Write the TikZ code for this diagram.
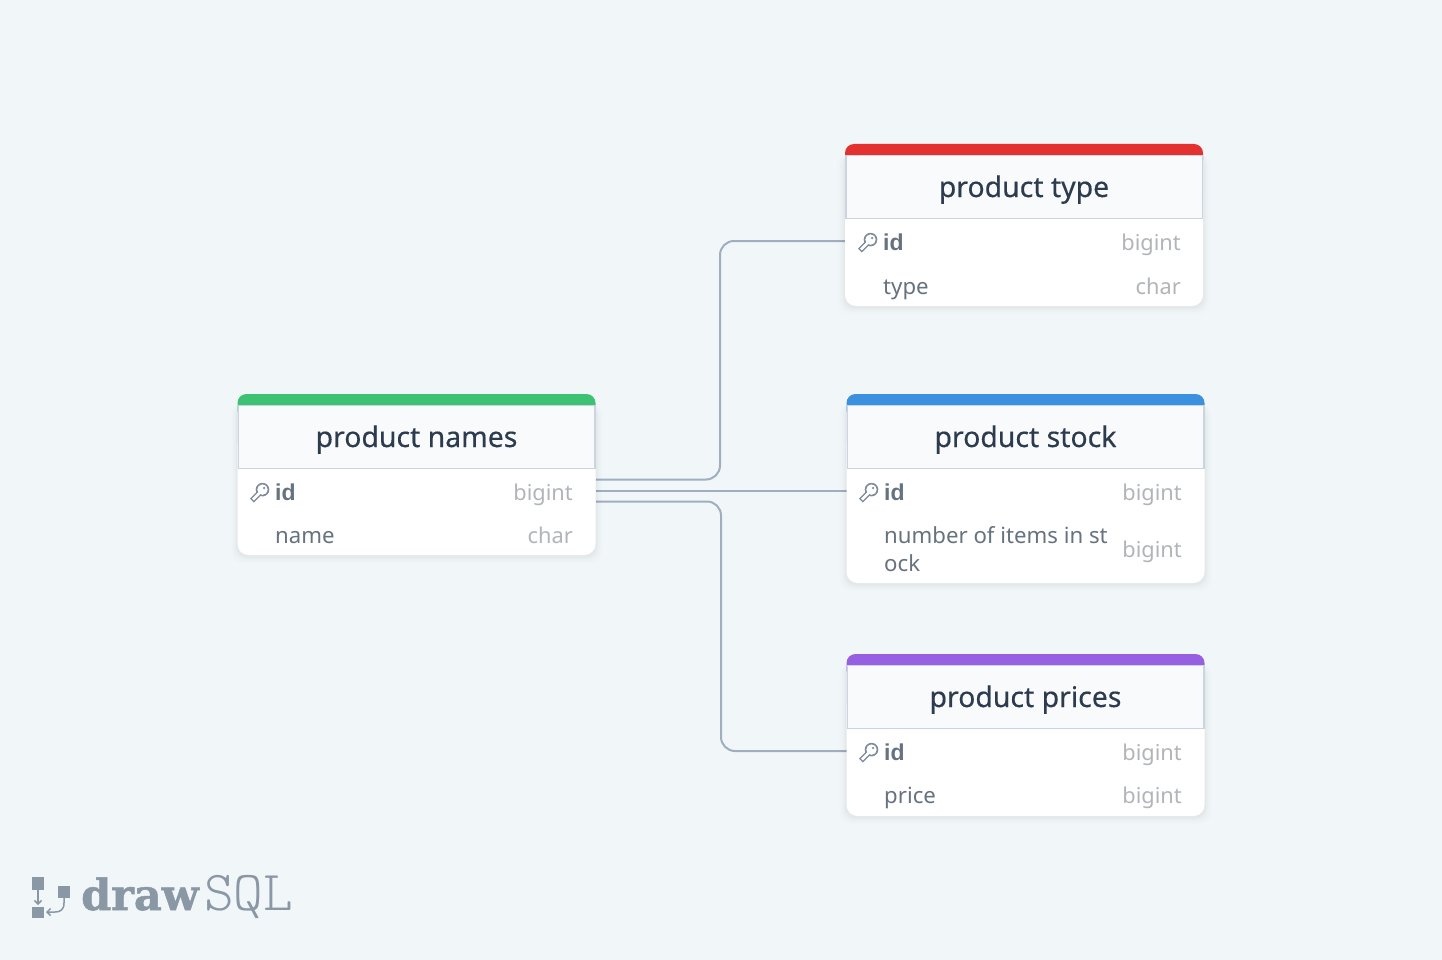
\documentclass[tikz,border=0pt]{standalone}
\usepackage{fontspec}
\setmainfont{Noto Sans}
\newfontfamily\titlefont[FakeBold=0.35]{Noto Sans}
\newfontfamily\boldcol{Liberation Sans Bold}
\newfontfamily\logobold[BoldFeatures={FakeBold=1.2}]{DejaVu Serif}
\newfontfamily\logolight{Latin Modern Mono Light}
\usetikzlibrary{arrows.meta}
\definecolor{bgc}{HTML}{F1F6F9}
\definecolor{headc}{HTML}{F8FAFC}
\definecolor{linec}{HTML}{CBD5E0}
\definecolor{linkc}{HTML}{A0AEC0}
\definecolor{titlec}{HTML}{2D3B4F}
\definecolor{colc}{HTML}{66727F}
\definecolor{typec}{HTML}{B2B5B8}
\definecolor{logoc}{HTML}{8A98A5}
\definecolor{keyc}{HTML}{7E8B98}
\definecolor{greenc}{HTML}{3CC272}
\definecolor{redc}{HTML}{E53030}
\definecolor{bluec}{HTML}{3B90E0}
\definecolor{purplec}{HTML}{9760E2}
\tikzset{
  x=1pt,y=-1pt,
  titletext/.style={font=\titlefont\fontsize{28.4}{30}\selectfont,text=titlec,inner sep=0pt,anchor=base},
  colname/.style={font=\fontsize{22.2}{28}\selectfont,text=colc,inner sep=0pt,anchor=base west},
  colbold/.style={font=\boldcol\fontsize{23}{28}\selectfont,text=colc,inner sep=0pt,anchor=base west},
  coltype/.style={font=\fontsize{21.8}{28}\selectfont,text=typec,inner sep=0pt,anchor=base east},
  link/.style={draw=linkc,line width=2pt,rounded corners=14pt},
  keyicon/.pic={
    \draw[line width=5.6pt,draw=keyc] (-7.6,7.6) -- (0,0);
    \fill[keyc] (3,-3.4) circle (6.8);
    \fill[white] (3,-3.4) circle (5.2);
    \draw[line width=2.6pt,draw=white] (-6.6,6.6) -- (0.5,-0.5);
    \fill[keyc] (4.6,-5) circle (1.3);
  }
}
% #1 name, #2 x, #3 top, #4 bottom, #5 colour, #6 title
\newcommand{\tablecard}[6]{
  \foreach \s/\o in {7/0.008,5/0.012,3/0.016,1.5/0.02}{
    \fill[black,opacity=\o,rounded corners=11pt] (#2-\s,#3+10) rectangle (#2+358+\s,#4+\s+1);
  }
  \path[fill=white,rounded corners=11pt] (#2,#3+40) rectangle (#2+358,#4);
  \path[fill=#5,rounded corners=9pt] (#2,#3) rectangle (#2+358,#3+25);
  \path[fill=headc,draw=linec,line width=1.5pt] (#2+.75,#3+11.5) rectangle (#2+357.25,#3+74.5);
  \node[titletext] (#1) at (#2+179,#3+53) {#6};
}
\begin{document}
\begin{tikzpicture}
\useasboundingbox (0,0) rectangle (1442,960);
\fill[bgc] (0,0) rectangle (1442,960);

% connector anchors on the tables
\coordinate (namesA) at (596,479.5);
\coordinate (namesB) at (596,490.5);
\coordinate (namesC) at (596,501.5);
\coordinate (typeIn) at (845,241);
\coordinate (stockIn) at (847,490.5);
\coordinate (pricesIn) at (847,751);

\draw[link] (namesA) -- (720,479.5) -- (720,241) -- (typeIn);
\draw[link] (namesB) -- (stockIn);
\draw[link] (namesC) -- (721,501.5) -- (721,751) -- (pricesIn);

% product names
\tablecard{tnames}{237.5}{394}{555}{greenc}{product names}
\pic at (259.5,493) {keyicon};
\node[colbold] (n1) at (275,500) {id};
\node[coltype] (n1t) at (573,500) {bigint};
\node[colname] (n2) at (275,543) {name};
\node[coltype] (n2t) at (573,543) {char};

% product type
\tablecard{ttype}{845}{144}{306}{redc}{product type}
\pic at (867.5,243) {keyicon};
\node[colbold] (y1) at (883,250) {id};
\node[coltype] (y1t) at (1181,250) {bigint};
\node[colname] (y2) at (883,294) {type};
\node[coltype] (y2t) at (1181,294) {char};

% product stock
\tablecard{tstock}{846.5}{394}{583}{bluec}{product stock}
\pic at (868.5,493) {keyicon};
\node[colbold] (s1) at (884,500) {id};
\node[coltype] (s1t) at (1182,500) {bigint};
\node[colname] (s2) at (884,543) {number of items in st};
\node[colname] (s3) at (884,571) {ock};
\node[coltype] (s2t) at (1182,557) {bigint};

% product prices
\tablecard{tprices}{846.5}{654}{816}{purplec}{product prices}
\pic at (868.5,753) {keyicon};
\node[colbold] (p1) at (884,760) {id};
\node[coltype] (p1t) at (1182,760) {bigint};
\node[colname] (p2) at (884,803) {price};
\node[coltype] (p2t) at (1182,803) {bigint};

% logo
\fill[logoc] (32,877) rectangle (44,890);
\fill[logoc] (58,886) rectangle (70,898);
\fill[logoc] (32,907) rectangle (44,918);
\draw[logoc,line width=1.5pt,-{Straight Barb[length=3.5pt,width=7pt]}] (38,890) -- (38,905);
\draw[logoc,line width=1.5pt,-{Straight Barb[length=3.5pt,width=7pt]}] (64,898) -- (64,903) .. controls (64,910) and (60,912) .. (55,912) -- (46,912);
\node[font=\logobold\fontsize{43}{50}\selectfont\bfseries,text=logoc,inner sep=0pt,anchor=base west] (logoA) at (81,910) {draw};
\node[font=\logolight\fontsize{56.5}{58}\selectfont,text=logoc,inner sep=0pt,anchor=base west] (logoB) at (204,910) {SQL};
\end{tikzpicture}
\end{document}
